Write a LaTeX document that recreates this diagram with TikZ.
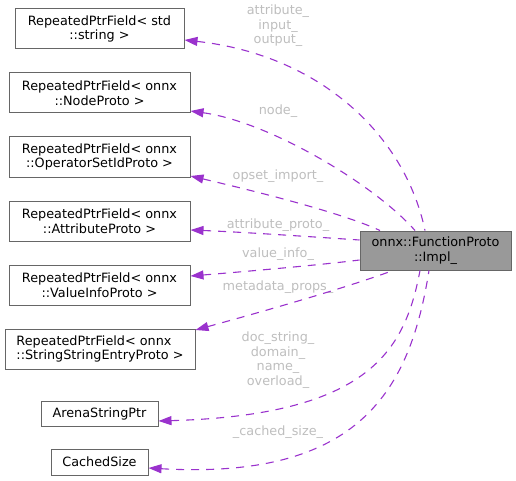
\documentclass[tikz,border=0pt]{standalone}
\usepackage{fontspec}
\setmainfont{DejaVu Sans}
\usetikzlibrary{arrows.meta}
\definecolor{edgec}{HTML}{9A32CD}
\definecolor{boxc}{HTML}{666666}
\definecolor{mainfill}{HTML}{999999}
\definecolor{labc}{HTML}{BEBEBE}
\tikzset{
  cls/.style={draw=boxc, line width=1pt, fill=white, inner sep=0pt, align=center,
    font=\fontsize{12.8}{14.5}\selectfont},
  mainbox/.style={cls, fill=mainfill},
  lab/.style={text=labc, inner sep=0pt, align=center, font=\fontsize{12.8}{14.5}\selectfont},
  rel/.style={draw=edgec, line width=1.1pt, dash pattern=on 8pt off 7pt,
    {Triangle[length=13pt,width=9pt,fill=edgec]}-},
}
\begin{document}
\begin{tikzpicture}[x=1pt,y=-1pt]
\useasboundingbox (0,0) rectangle (516,481);
\node[cls, minimum width=169, minimum height=40] (s1) at (99.5,29) {RepeatedPtrField< std\\::string >};
\node[cls, minimum width=181, minimum height=40] (s2) at (99.5,93) {RepeatedPtrField< onnx\\::NodeProto >};
\node[cls, minimum width=181, minimum height=40] (s3) at (99.5,157) {RepeatedPtrField< onnx\\::OperatorSetIdProto >};
\node[cls, minimum width=181, minimum height=40] (s4) at (99.5,221) {RepeatedPtrField< onnx\\::AttributeProto >};
\node[cls, minimum width=181, minimum height=40] (s5) at (99.5,285) {RepeatedPtrField< onnx\\::ValueInfoProto >};
\node[cls, align=left, minimum width=190, minimum height=40] (s6) at (100,349) {RepeatedPtrField< onnx\\::StringStringEntryProto >};
\node[cls, minimum width=117, minimum height=25] (s7) at (99.5,413.5) {ArenaStringPtr};
\node[cls, minimum width=97, minimum height=26] (s8) at (99.5,462) {CachedSize};
\node[mainbox, minimum width=151, minimum height=39] (m) at (435.5,250.5) {onnx::FunctionProto\\::Impl\_};

\node[lab] (l1) at (278,26) {attribute\_\\input\_\\output\_};
\node[lab] (l2) at (278,111) {node\_};
\node[lab] (l3) at (278,176) {opset\_import\_};
\node[lab] (l4) at (278,225) {attribute\_proto\_};
\node[lab] (l5) at (278,254) {value\_info\_};
\node[lab] (l6) at (278,287) {metadata\_props\_};
\node[lab] (l7) at (278,360) {doc\_string\_\\domain\_\\name\_\\overload\_};
\node[lab] (l8) at (278,432) {\_cached\_size\_};

\draw[rel] ([yshift=-11pt]s1.east) .. controls (320,55) and (405,135) .. ([xshift=-10.5pt]m.north);
\draw[rel] ([yshift=-18pt]s2.east) .. controls (270,122) and (375,185) .. ([xshift=-20.5pt]m.north);
\draw[rel] ([yshift=-19pt]s3.east) .. controls (250,190) and (340,212) .. ([xshift=-55.5pt]m.north);
\draw[rel] ([yshift=-9pt]s4.east) .. controls (240,232) and (300,236) .. ([yshift=10.5pt]m.west);
\draw[rel] ([yshift=9pt]s5.east) .. controls (240,272) and (320,265) .. ([yshift=-9.5pt]m.west);
\draw[rel] ([yshift=19pt]s6.east) .. controls (250,315) and (340,290) .. ([xshift=-42.5pt]m.south);
\draw[rel] ([yshift=-7.5pt]s7.east) .. controls (370,415) and (405,350) .. ([xshift=-15.5pt]m.south);
\draw[rel] ([yshift=-6pt]s8.east) .. controls (360,480) and (410,390) .. ([xshift=-6.5pt]m.south);
\end{tikzpicture}
\end{document}
